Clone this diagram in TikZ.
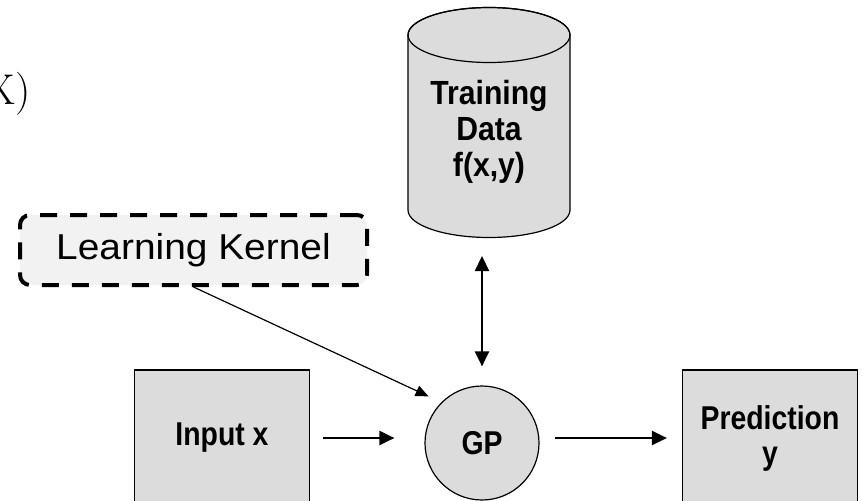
\documentclass[tikz,border=0pt]{standalone}
\usepackage{fontspec}
\setmainfont{Liberation Sans}
\newfontfamily\fragfont{Latin Modern Roman}
\newfontfamily\boldnarrow[FakeStretch=0.86]{Liberation Sans Bold}
\newfontfamily\boldtext[FakeStretch=0.9]{Liberation Sans Bold}
\newfontfamily\widesans[FakeStretch=1.08]{Liberation Sans}
\usetikzlibrary{arrows.meta}
\definecolor{boxgray}{RGB}{220,220,220}
\definecolor{kernelgray}{RGB}{242,242,242}
\begin{document}
\begin{tikzpicture}[x=1pt,y=-1pt,
  box/.style={draw, line width=1.2pt, fill=boxgray, align=center,
    font=\boldnarrow\fontsize{33}{35}\selectfont},
  flow/.style={line width=2.2pt, -{Triangle[length=15pt,width=14pt]}}]
  \clip (0,0) rectangle (863,501);

  \node[anchor=base east, inner sep=0, font=\fragfont\fontsize{43}{48}\selectfont] (fx) at (31,104) {f(X)};

  \draw[line width=1.2pt, fill=boxgray] (408,35) -- (408,210) arc[start angle=180, end angle=0, x radius=81, y radius=27.5]
    -- (570,35) arc[start angle=0, end angle=-180, x radius=81, y radius=27.5] -- cycle;
  \draw[line width=1.2pt] (489,35) ellipse[x radius=81, y radius=27.5];
  \coordinate (dbase) at (489,238);
  \node[box, draw=none, fill=none, font=\boldtext\fontsize{33.5}{36}\selectfont] (data) at (489,132) {Training\\Data\\f(x,y)};
  \node[draw, fill=kernelgray, rounded corners=10pt, line width=4pt, dash pattern=on 17pt off 13pt,
    minimum width=347pt, minimum height=70pt, font=\widesans\fontsize{36}{40}\selectfont] (kernel) at (193.5,250) {Learning Kernel};

  \node[box, minimum width=175pt, minimum height=136pt] (input) at (222,438) {Input x};
  \node[box, circle, minimum size=114pt] (gp) at (482,443) {GP};
  \node[box, minimum width=175pt, minimum height=136pt] (pred) at (770,438) {Prediction\\y};

  \draw[flow, shorten <=13pt, shorten >=30pt] (input.east) -- (input.east -| gp.west);
  \draw[flow, shorten <=15pt, shorten >=15pt] (gp.east |- pred.west) -- (pred.west);
  \draw[flow, {Triangle[length=15pt,width=14pt]}-{Triangle[length=15pt,width=14pt]}, shorten <=18pt, shorten >=19pt] (gp.north |- dbase) -- (gp.north);
  \draw[line width=1.2pt, -{Triangle[length=13pt,width=11pt]}, shorten >=14pt] (kernel.south) -- (gp.north west);
\end{tikzpicture}
\end{document}
